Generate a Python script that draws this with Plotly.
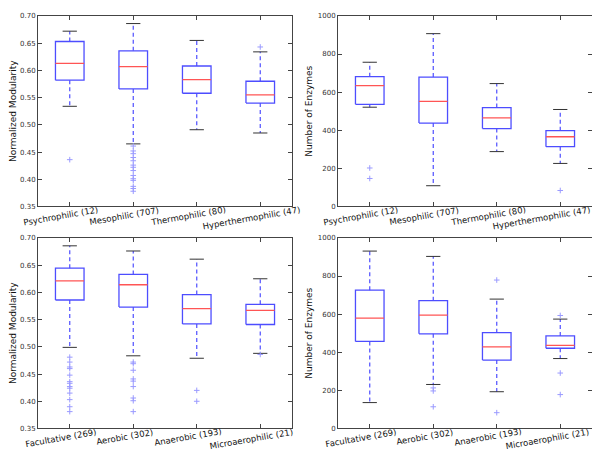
import plotly.graph_objects as go
from plotly.subplots import make_subplots

# ---------------- data ----------------
temp_labels = ["Psychrophilic (12)", "Mesophilic (707)", "Thermophilic (80)", "Hyperthermophilic (47)"]
oxy_labels = ["Facultative (269)", "Aerobic (302)", "Anaerobic (193)", "Microaerophilic (21)"]

# temperature groups - normalized modularity
tm_lo = [0.534, 0.465, 0.491, 0.485]
tm_q1 = [0.582, 0.566, 0.558, 0.540]
tm_med = [0.613, 0.607, 0.583, 0.555]
tm_q3 = [0.653, 0.636, 0.608, 0.580]
tm_hi = [0.672, 0.686, 0.655, 0.634]
tm_out = [[0.436],
          [0.461, 0.452, 0.447, 0.440, 0.434, 0.426, 0.422, 0.416, 0.407, 0.401, 0.398, 0.387, 0.383, 0.378],
          [],
          [0.643]]

# temperature groups - number of enzymes
te_lo = [521, 109, 288, 226]
te_q1 = [536, 438, 409, 314]
te_med = [634, 552, 465, 366]
te_q3 = [681, 679, 519, 398]
te_hi = [757, 907, 645, 509]
te_out = [[202, 147], [], [], [84]]

# oxygen groups - normalized modularity
om_lo = [0.499, 0.4835, 0.479, 0.488]
om_q1 = [0.586, 0.573, 0.542, 0.541]
om_med = [0.621, 0.614, 0.570, 0.567]
om_q3 = [0.6445, 0.633, 0.596, 0.578]
om_hi = [0.6855, 0.676, 0.661, 0.625]
om_out = [[0.481, 0.472, 0.463, 0.460, 0.448, 0.436, 0.433, 0.427, 0.424, 0.415, 0.403, 0.390, 0.381],
          [0.472, 0.469, 0.457, 0.441, 0.437, 0.427, 0.406, 0.401, 0.381],
          [0.420, 0.400],
          [0.486]]

# oxygen groups - number of enzymes
oe_lo = [136, 231, 193, 367]
oe_q1 = [457, 497, 359, 421]
oe_med = [579, 595, 428, 436]
oe_q3 = [726, 671, 503, 486]
oe_hi = [931, 903, 679, 574]
oe_out = [[], [213, 197, 114], [779, 83], [593, 291, 178]]

mod_ticks = [0.35, 0.40, 0.45, 0.50, 0.55, 0.60, 0.65, 0.70]
enz_ticks = [0, 200, 400, 600, 800, 1000]

# ---------------- style ----------------
BOX_W = 0.45
CAP_W = BOX_W / 2
BLUE = "#4d4dff"
RED = "#ff5555"
CAP = "#333333"
FONT = "DejaVu Sans"

fig = make_subplots(rows=2, cols=2)


def add_panel(row, col, lo, q1, med, q3, hi, out):
    bx, by, mx, my, wx, wy, cx, cy, ox, oy = [], [], [], [], [], [], [], [], [], []
    for i in range(len(med)):
        p = i + 1
        l, r = p - BOX_W / 2, p + BOX_W / 2
        bx += [l, r, r, l, l, None]
        by += [q1[i], q1[i], q3[i], q3[i], q1[i], None]
        mx += [l, r, None]
        my += [med[i], med[i], None]
        wx += [p, p, None, p, p, None]
        wy += [q3[i], hi[i], None, q1[i], lo[i], None]
        cx += [p - CAP_W / 2, p + CAP_W / 2, None, p - CAP_W / 2, p + CAP_W / 2, None]
        cy += [hi[i], hi[i], None, lo[i], lo[i], None]
        for v in out[i]:
            ox.append(p)
            oy.append(v)
    fig.add_trace(go.Scatter(x=wx, y=wy, mode="lines",
                             line=dict(color=BLUE, width=1.2, dash="4px,3px"),
                             hoverinfo="skip"), row=row, col=col)
    fig.add_trace(go.Scatter(x=cx, y=cy, mode="lines",
                             line=dict(color=CAP, width=1), hoverinfo="skip"),
                  row=row, col=col)
    fig.add_trace(go.Scatter(x=bx, y=by, mode="lines",
                             line=dict(color=BLUE, width=1.3), hoverinfo="skip"),
                  row=row, col=col)
    fig.add_trace(go.Scatter(x=mx, y=my, mode="lines",
                             line=dict(color=RED, width=1.3), hoverinfo="skip"),
                  row=row, col=col)
    fig.add_trace(go.Scatter(x=ox, y=oy, mode="markers",
                             marker=dict(symbol="cross-thin", size=4,
                                         line=dict(color="#9a9aff", width=1)),
                             hoverinfo="skip"), row=row, col=col)


add_panel(1, 1, tm_lo, tm_q1, tm_med, tm_q3, tm_hi, tm_out)
add_panel(1, 2, te_lo, te_q1, te_med, te_q3, te_hi, te_out)
add_panel(2, 1, om_lo, om_q1, om_med, om_q3, om_hi, om_out)
add_panel(2, 2, oe_lo, oe_q1, oe_med, oe_q3, oe_hi, oe_out)

W, H = 600, 452
x_dom = {1: [30 / W, 284 / W], 2: [330 / W, 584 / W]}
y_dom = {1: [1 - 198 / H, 1 - 4 / H], 2: [1 - 424 / H, 1 - 230 / H]}

axis_common = dict(showline=True, linecolor="#444444", linewidth=1, mirror="ticks",
                   ticks="inside", ticklen=4, tickcolor="#444444", showgrid=False,
                   zeroline=False, tickfont=dict(size=7, color="#333333", family=FONT))

panels = [(1, 1, temp_labels, "Normalized Modularity", [0.35, 0.70], mod_ticks, ".2f"),
          (1, 2, temp_labels, "Number of Enzymes", [0, 1000], enz_ticks, "d"),
          (2, 1, oxy_labels, "Normalized Modularity", [0.35, 0.70], mod_ticks, ".2f"),
          (2, 2, oxy_labels, "Number of Enzymes", [0, 1000], enz_ticks, "d")]

BASE_SHIFT = -9      # compensates plotly's rotated-annotation offset
CHAR_W = 5.2         # approx. px per character (rotated extent) at the label font size
annotations = []
for k, (r, c, labels, ytitle, yr, yt, fmt) in enumerate(panels):
    idx = k + 1
    fig.update_xaxes(domain=x_dom[c], range=[0.5, 4.5],
                     tickvals=list(range(1, len(labels) + 1)), showticklabels=False,
                     row=r, col=c, **axis_common)
    fig.update_yaxes(domain=y_dom[r], range=yr, tickvals=yt, tickformat=fmt,
                     title=dict(text=ytitle, standoff=3,
                                font=dict(size=9, family=FONT, color="#111111")),
                     row=r, col=c, **axis_common)
    xref = "x" if idx == 1 else f"x{idx}"
    yref = "y domain" if idx == 1 else f"y{idx} domain"
    d0, d1 = x_dom[c][0] * W, x_dom[c][1] * W
    n = len(labels)
    for j, lab in enumerate(labels):
        tick_px = d0 + (j + 0.5) / n * (d1 - d0)
        right_edge = tick_px + BASE_SHIFT + 8 + CHAR_W * len(lab) / 2
        shift = BASE_SHIFT - max(0.0, right_edge - (W - 1))
        annotations.append(dict(x=j + 1, y=0, xref=xref, yref=yref, text=lab,
                                showarrow=False, textangle=-10, xanchor="center",
                                yanchor="top", yshift=3, xshift=shift, borderpad=0,
                                font=dict(size=8.5, family=FONT, color="#111111")))

fig.update_layout(width=W, height=H, margin=dict(l=0, r=0, t=0, b=0),
                  showlegend=False, plot_bgcolor="white", paper_bgcolor="white",
                  annotations=annotations, font=dict(family=FONT))

fig.write_html("out.html")
